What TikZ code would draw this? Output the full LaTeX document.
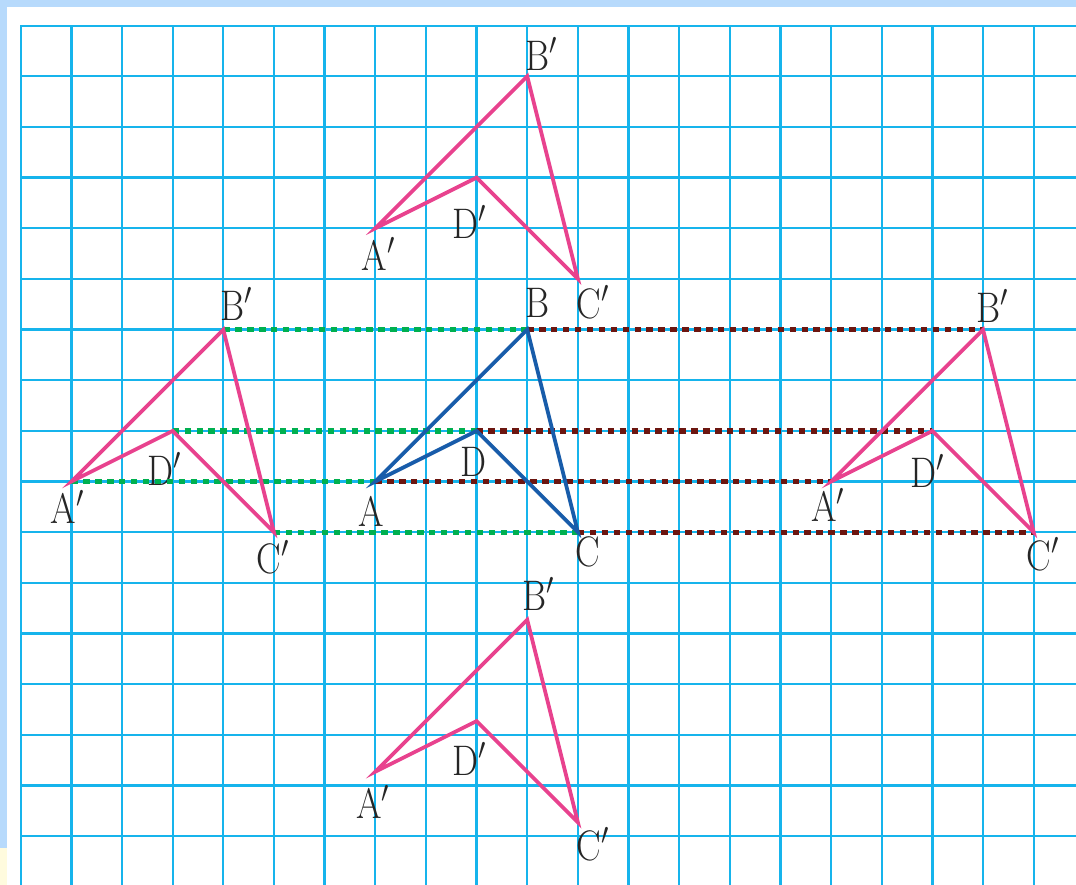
\documentclass[tikz,border=0pt]{standalone}
\usepackage{amsmath}
\usepackage{tikz}

\definecolor{gridcyan}{RGB}{22,180,236}
\definecolor{figpink}{RGB}{232,66,142}
\definecolor{figblue}{RGB}{24,92,170}
\definecolor{dotgreen}{RGB}{0,176,80}
\definecolor{dotred}{RGB}{108,22,16}
\definecolor{frameblue}{RGB}{183,218,252}
\definecolor{frameyellow}{RGB}{255,251,222}

\begin{document}
\begin{tikzpicture}[
    gridline/.style={gridcyan, line width=1.3pt, line cap=rect},
    figline/.style={line width=2.1pt},
    greendot/.style={dotgreen, line width=3pt, dash pattern=on 3.6pt off 3.1pt},
    reddot/.style={dotred, line width=3pt, dash pattern=on 3.6pt off 3.1pt},
    lbl/.style={inner sep=0pt, text=black!85, font=\fontsize{24}{24}\selectfont, xscale=0.86}]

        \useasboundingbox (-0.409,0.507) rectangle (20.835,-16.965);

        \fill[frameblue] (-0.409,0.507) rectangle (20.835,-16.965);
        \fill[white] (-0.277,0.375) rectangle (20.835,-16.965);
        \fill[frameyellow] (-0.409,-16.241) rectangle (-0.277,-16.965);

        \begin{scope}
          \clip (-0.277,0.375) rectangle (20.835,-16.965);
          \foreach \x in {0,...,20}
            \draw[gridline] (\x,0) -- (\x,-17);
          \foreach \y in {0,...,16}
            \draw[gridline] (0,-\y) -- (21,-\y);
        \end{scope}

        \begin{scope}[shift={(7,-9)}]
          \coordinate (mA) at (0,0);
          \coordinate (mB) at (3,3);
          \coordinate (mC) at (4,-1);
          \coordinate (mD) at (2,1);
          \node[lbl] (mAl) at (-0.08,-0.59) {A};
          \node[lbl] (mBl) at (3.2,3.53) {B};
          \node[lbl] (mCl) at (4.2,-1.39) {C};
          \node[lbl] (mDl) at (1.93,0.39) {D};
        \end{scope}

        \begin{scope}[shift={(7,-4)}]
          \coordinate (tA) at (0,0);
          \coordinate (tB) at (3,3);
          \coordinate (tC) at (4,-1);
          \coordinate (tD) at (2,1);
          \node[lbl] (tAl) at (0.06,-0.51) {A$'$};
          \node[lbl] (tBl) at (3.28,3.45) {B$'$};
          \node[lbl] (tCl) at (4.3,-1.47) {C$'$};
          \node[lbl] (tDl) at (1.86,0.13) {D$'$};
        \end{scope}

        \begin{scope}[shift={(1,-9)}]
          \coordinate (lA) at (0,0);
          \coordinate (lB) at (3,3);
          \coordinate (lC) at (4,-1);
          \coordinate (lD) at (2,1);
          \node[lbl] (lAl) at (-0.08,-0.51) {A$'$};
          \node[lbl] (lBl) at (3.26,3.51) {B$'$};
          \node[lbl] (lCl) at (3.98,-1.49) {C$'$};
          \node[lbl] (lDl) at (1.84,0.25) {D$'$};
        \end{scope}

        \begin{scope}[shift={(16,-9)}]
          \coordinate (rA) at (0,0);
          \coordinate (rB) at (3,3);
          \coordinate (rC) at (4,-1);
          \coordinate (rD) at (2,1);
          \node[lbl] (rAl) at (-0.06,-0.47) {A$'$};
          \node[lbl] (rBl) at (3.18,3.47) {B$'$};
          \node[lbl] (rCl) at (4.18,-1.43) {C$'$};
          \node[lbl] (rDl) at (1.9,0.21) {D$'$};
        \end{scope}

        \begin{scope}[shift={(7,-14.73)}]
          \coordinate (bA) at (0,0);
          \coordinate (bB) at (3,3);
          \coordinate (bC) at (4,-1);
          \coordinate (bD) at (2,1);
          \node[lbl] (bAl) at (-0.04,-0.59) {A$'$};
          \node[lbl] (bBl) at (3.22,3.51) {B$'$};
          \node[lbl] (bCl) at (4.3,-1.43) {C$'$};
          \node[lbl] (bDl) at (1.86,0.25) {D$'$};
        \end{scope}

        \foreach \p in {A,B,C,D} {
          \draw[greendot] (l\p) -- (m\p);
          \draw[reddot] (m\p) -- (r\p);
        }

        \draw[figline, figblue] (mA) -- (mB) -- (mC) -- (mD) -- cycle;

        \foreach \f in {t,l,r,b}
          \draw[figline, figpink] (\f A) -- (\f B) -- (\f C) -- (\f D) -- cycle;

\end{tikzpicture}
\end{document}
